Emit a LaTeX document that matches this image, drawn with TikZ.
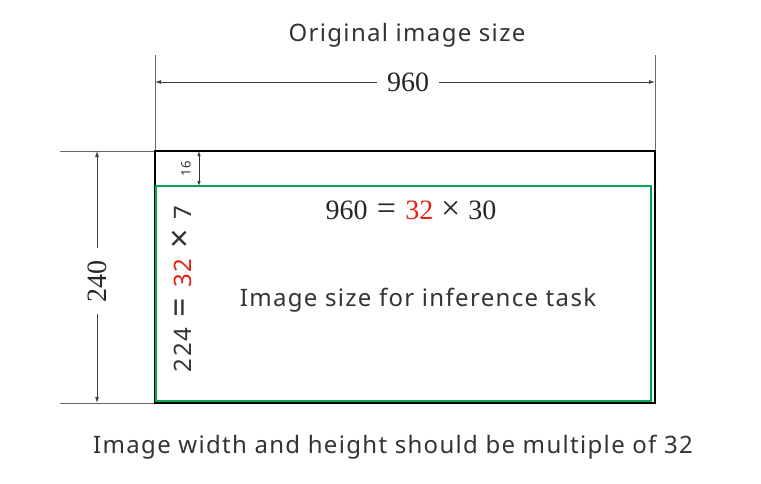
\documentclass[tikz,border=0pt]{standalone}
\usepackage{fontspec}
\usetikzlibrary{arrows.meta}
\newfontfamily\sansf[LetterSpace=5.5]{Noto Sans}
\newfontfamily\seriff{Liberation Serif}
\definecolor{txt}{RGB}{51,51,51}
\definecolor{grn}{RGB}{0,166,81}
\definecolor{rd}{RGB}{232,32,20}
\newcommand{\bigop}[1]{{\fontsize{34}{34}\selectfont #1}}
\begin{document}
\begin{tikzpicture}[x=1pt,y=-1pt,
  thinline/.style={draw=black!60,line width=0.8pt},
  dimarrow/.style={draw=black!75,line width=0.8pt,{Latex[length=6pt,width=4pt]}-{Latex[length=6pt,width=4pt]}},
  sanslabel/.style={text=txt,font=\sansf\fontsize{24}{28}\selectfont,inner sep=0pt},
  seriflabel/.style={text=black!85,font=\seriff\fontsize{28}{32}\selectfont,inner sep=0pt},
  gapfill/.style={fill=white,inner sep=6pt}]
\useasboundingbox (0,0) rectangle (761,483);
% coordinates
\coordinate (tl) at (155,151);
\coordinate (br) at (655,403);
\coordinate (gtl) at (156,186);
\coordinate (gbr) at (651,401);
% extension lines
\coordinate (extLtop) at (155,55);
\coordinate (extRtop) at (655,55);
\coordinate (extRbot) at (655,151);
\coordinate (extTleft) at (60,151);
\coordinate (extBleft) at (60,403);
\coordinate (blc) at (155,403);
\draw[thinline] (extLtop) -- (tl);
\draw[thinline] (extRtop) -- (extRbot);
\draw[thinline] (extTleft) -- (tl);
\draw[thinline] (extBleft) -- (blc);
% horizontal dimension
\coordinate (hA) at (155,82);
\coordinate (hB) at (655,82);
\draw[dimarrow] (hA) -- (hB);
\node[seriflabel,gapfill,inner xsep=10pt] (w960) at (408,82) {960};
% vertical dimension
\coordinate (vA) at (97,151);
\coordinate (vB) at (97,403);
\draw[dimarrow] (vA) -- (vB);
\node[seriflabel,gapfill,inner xsep=12pt,rotate=90] (h240) at (97,281) {240};
% small 16 dimension
\coordinate (sA) at (199,151);
\coordinate (sB) at (199,186);
\draw[draw=black!80,line width=0.8pt,{Latex[length=5pt,width=3.5pt]}-{Latex[length=5pt,width=3.5pt]}] (sA) -- (sB);
\node[rotate=90,inner sep=0pt,font=\sansf\fontsize{13}{15}\selectfont,text=txt] (l16) at (186,169) {16};
% rectangles
\draw[black,line width=2.4pt] (tl) rectangle (br);
\draw[grn,line width=2.8pt] (gtl) rectangle (gbr);
% texts
\node[sanslabel] (title) at (407,35) {Original image size};
\node[seriflabel] (eq1) at (411,210) {960\hspace{0.33em}\bigop{=}\hspace{0.33em}{\color{rd}32}\hspace{0.28em}\bigop{×}\hspace{0.28em}30};
\node[sanslabel,rotate=90] (eq2) at (182,289) {224\hspace{0.45em}\bigop{=}\hspace{0.45em}{\color{rd}32}\hspace{0.4em}\bigop{×}\hspace{0.4em}7};
\node[sanslabel] (mid) at (418,300) {Image size for inference task};
\node[sanslabel] (bottom) at (393,447) {Image width and height should be multiple of 32};
\end{tikzpicture}
\end{document}
